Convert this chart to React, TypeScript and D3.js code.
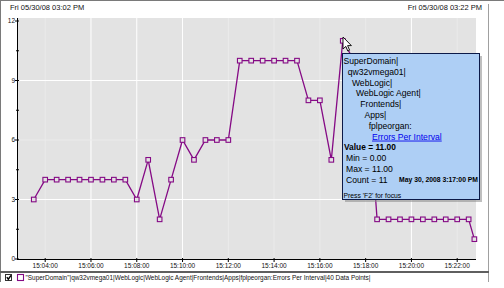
import React from "react";
import * as d3 from "d3";

const pointTimes = [
  "15:03:30", "15:04:00", "15:04:30", "15:05:00", "15:05:30", "15:06:00", "15:06:30", "15:07:00",
  "15:07:30", "15:08:00", "15:08:30", "15:09:00", "15:09:30", "15:10:00", "15:10:30", "15:11:00",
  "15:11:30", "15:12:00", "15:12:30", "15:13:00", "15:13:30", "15:14:00", "15:14:30", "15:15:00",
  "15:15:30", "15:16:00", "15:16:30", "15:17:00", "15:17:30", "15:18:00", "15:18:30", "15:19:00",
  "15:19:30", "15:20:00", "15:20:30", "15:21:00", "15:21:30", "15:22:00", "15:22:30", "15:22:45",
];
const errorValues = [
  3, 4, 4, 4, 4, 4, 4, 4,
  4, 3, 5, 2, 4, 6, 5, 6,
  6, 6, 10, 10, 10, 10, 10, 10,
  8, 8, 5, 11, 10, 10, 2, 2,
  2, 2, 2, 2, 2, 2, 2, 1,
];
const xTickLabels = ["15:04:00", "15:06:00", "15:08:00", "15:10:00", "15:12:00", "15:14:00", "15:16:00", "15:18:00", "15:20:00", "15:22:00"];
const xGridStrong = [false, true, true, true, false, false, false, false, true, false];
const yMajorTicks = [0, 3, 6, 9, 12];
const yMinorTicks = [1.5, 4.5, 7.5, 10.5];
const yGridStrong = [false, true, false, true, false];
const headerLeft = "Fri 05/30/08 03:02 PM";
const headerRight = "Fri 05/30/08 03:22 PM";
const tooltipPath = ["SuperDomain|", "qw32vmega01|", "WebLogic|", "WebLogic Agent|", "Frontends|", "Apps|", "fplpeorgan:"];
const tooltipMetric = "Errors Per Interval";
const tooltipValue = "Value = 11.00";
const tooltipStats = ["Min = 0.00", "Max = 11.00", "Count = 11"];
const tooltipDate = "May 30, 2008 3:17:00 PM";
const tooltipHint = "Press 'F2' for focus";
const legendText = "\"SuperDomain\"|qw32vmega01|WebLogic|WebLogic Agent|Frontends|Apps|fplpeorgan:Errors Per Interval|40 Data Points|";

const W = 504, H = 288;
const PL = 17, PR = 476, PT = 18, PB = 259;
const PURPLE = "#850a85";
const FONT = "'Liberation Sans', Arial, sans-serif";

export default function App() {
  const parse = d3.timeParse("%H:%M:%S");
  const x = d3.scaleTime()
    .domain([parse("15:04:00")!, parse("15:22:00")!])
    .range([45.2, 457.2]);
  const y = d3.scaleLinear().domain([0, 12]).range([259, 21]);
  const pts = pointTimes.map((t, i) => [x(parse(t)!), y(errorValues[i])] as [number, number]);
  const line = d3.line<[number, number]>().x(d => d[0]).y(d => d[1]);
  const xTicks = xTickLabels.map(s => x(parse(s)!));

  const tipX = 342, tipY = 53, tipW = 137, tipH = 146;
  const tipLine = 10.8;
  const tipFirst = 64;

  return (
    <svg width={W} height={H} style={{ position: "fixed", left: 0, top: 0, background: "#fff" }} fontFamily={FONT}>
      <rect x={0} y={0} width={W} height={H} fill="#fff" />
      {/* outer frame */}
      <line x1={0} y1={0.5} x2={W} y2={0.5} stroke="#7a7a7a" />
      <line x1={0.5} y1={0} x2={0.5} y2={282} stroke="#7a7a7a" />
      <line x1={488.5} y1={4} x2={488.5} y2={282} stroke="#a0a0a0" />
      {/* header */}
      <text x={10} y={10} fontSize={7.5} fill="#111">{headerLeft}</text>
      <text x={482} y={10} fontSize={7.5} fill="#111" textAnchor="end">{headerRight}</text>
      {/* plot area */}
      <rect x={PL} y={PT} width={PR - PL} height={PB - PT} fill="#e3e3e3" />
      {xTicks.map((xv, i) => (
        <line key={"gx" + i} x1={xv} y1={PT} x2={xv} y2={PB} stroke={xGridStrong[i] ? "#ffffff" : "#ebebeb"} strokeWidth={1} />
      ))}
      {yMajorTicks.map((v, i) => (
        (v > 0 && v < 12) ? <line key={"gy" + i} x1={PL} y1={y(v)} x2={PR} y2={y(v)} stroke={yGridStrong[i] ? "#ffffff" : "#ebebeb"} strokeWidth={1} /> : null
      ))}
      {/* axes */}
      <line x1={PL + 0.5} y1={PT} x2={PL + 0.5} y2={PB + 0.5} stroke="#000" strokeWidth={1} />
      <line x1={PL} y1={PB + 0.5} x2={PR} y2={PB + 0.5} stroke="#000" strokeWidth={1} />
      {yMajorTicks.map((v, i) => (
        <g key={"yt" + i}>
          <line x1={15} y1={y(v)} x2={19} y2={y(v)} stroke="#000" />
          <text x={15} y={y(v) + 2.3} fontSize={6.5} textAnchor="end" fill="#111">{String(v)}</text>
        </g>
      ))}
      {yMinorTicks.map((v, i) => (
        <line key={"ym" + i} x1={16} y1={y(v)} x2={19} y2={y(v)} stroke="#000" />
      ))}
      {xTicks.map((xv, i) => (
        <g key={"xt" + i}>
          <line x1={xv} y1={PB - 1} x2={xv} y2={PB + 3} stroke="#000" />
          <text x={xv} y={267.5} fontSize={6.5} textAnchor="middle" fill="#111">{xTickLabels[i]}</text>
        </g>
      ))}
      {/* series */}
      <path d={line(pts) || ""} fill="none" stroke={PURPLE} strokeWidth={1.3} />
      {pts.map((p, i) => (
        <rect key={"m" + i} x={p[0] - 2.3} y={p[1] - 2.3} width={4.6} height={4.6} fill="#e3e3e3" stroke={PURPLE} strokeWidth={1.1} />
      ))}
      {/* tooltip */}
      <rect x={tipX + 3} y={tipY + 3} width={tipW} height={tipH} fill="#8a8a8a" opacity={0.55} />
      <rect x={tipX + 0.5} y={tipY + 0.5} width={tipW} height={tipH} fill="#aecff5" stroke="#0c1a48" strokeWidth={1} />
      {tooltipPath.map((s, i) => (
        <text key={"tp" + i} x={tipX + 1.5 + i * 4.2} y={tipFirst + i * tipLine} fontSize={8.6} fill="#000">{s}</text>
      ))}
      <text x={tipX + 30} y={tipFirst + 7 * tipLine} fontSize={8.6} fill="#0000ee" textDecoration="underline">{tooltipMetric}</text>
      <text x={tipX + 2} y={tipFirst + 8 * tipLine} fontSize={8.4} fontWeight="bold" fill="#000">{tooltipValue}</text>
      {tooltipStats.map((s, i) => (
        <text key={"ts" + i} x={tipX + 4} y={tipFirst + (9 + i) * tipLine} fontSize={8.6} fill="#000">{s}</text>
      ))}
      <text x={tipX + 136} y={tipFirst + 11 * tipLine - 0.5} fontSize={6.8} fontWeight="bold" fill="#000" textAnchor="end">{tooltipDate}</text>
      <text x={tipX + 1.5} y={tipY + tipH - 1.5} fontSize={6.8} fill="#000">{tooltipHint}</text>
      {/* cursor */}
      <path d="M343,37 L343,49 L345.8,46.4 L347.8,51 L349.6,50.2 L347.6,45.6 L351.4,45.6 Z" fill="#fff" stroke="#000" strokeWidth={0.9} />
      {/* legend */}
      <rect x={0} y={271} width={489} height={2} fill="#5f5f5f" />
      <rect x={5.5} y={274.5} width={6} height={6} fill="#fff" stroke="#333" />
      <path d="M6.8,277.2 L8.3,279.2 L11,275.4" fill="none" stroke="#000" strokeWidth={1.4} />
      <rect x={17.5} y={274.5} width={6} height={6} fill="none" stroke={PURPLE} strokeWidth={1.1} />
      <text x={25.5} y={279.8} fontSize={6.6} fill="#111" textLength={345} lengthAdjust="spacingAndGlyphs">{legendText}</text>
    </svg>
  );
}
